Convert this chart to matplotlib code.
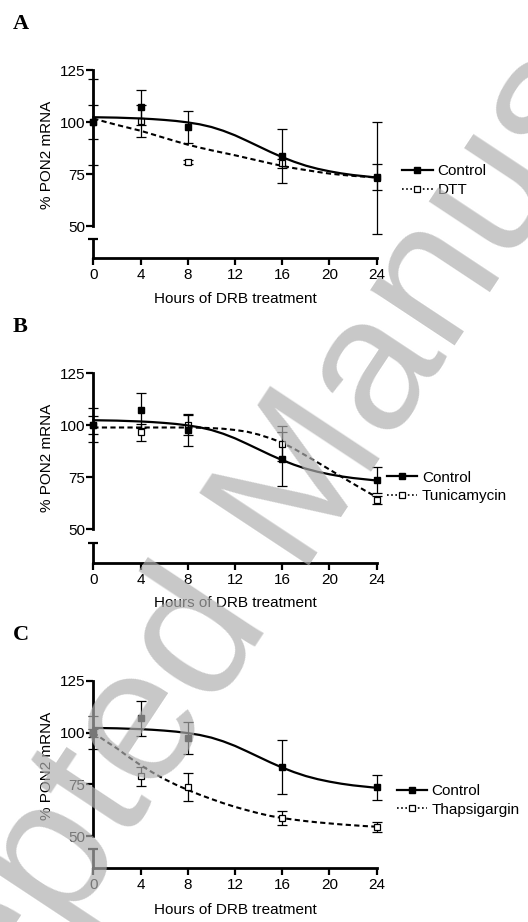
import matplotlib
matplotlib.use('Agg')
import matplotlib.pyplot as plt
from matplotlib.lines import Line2D

plt.rcParams['font.family'] = ['Liberation Sans', 'DejaVu Sans']

W, H = 528, 922

# time points (hours of DRB treatment)
hours = [0, 4, 8, 16, 24]
curve_hours = list(range(0, 25))

# control series (same in all panels)
control = [100, 107, 97.5, 83.5, 73.5]
control_err = [8, 8.4, 7.7, 13, 6.2]
control_fit = [102.3, 102.2, 102.1, 101.9, 101.7, 101.4, 101.0, 100.5, 99.8, 98.9, 97.6, 95.8,
               93.6, 91.0, 88.3, 85.6, 83.1, 80.9, 79.0, 77.5, 76.3, 75.3, 74.5, 73.9, 73.3]

# DTT
dtt = [100, 100.3, 80.6, 80.1, 73.0]
dtt_err = [20.6, 7.7, 1, 2, 26.8]
dtt_fit = [101.7, 100.1, 98.6, 97.2, 95.8, 94.1, 92.4, 90.7, 89.1, 87.7, 86.4, 85.2,
           84.0, 82.7, 81.4, 80.1, 78.9, 77.8, 76.9, 76.0, 75.2, 74.6, 74.1, 73.7, 73.3]

# Tunicamycin
tunica = [100, 96.4, 100, 91.0, 64.0]
tunica_err = [4.5, 4, 5, 8.5, 2]
tunica_fit = [98.8, 98.8, 98.8, 98.8, 98.8, 98.8, 98.8, 98.8, 98.8, 98.7, 98.5, 98.2,
              97.6, 96.8, 95.4, 93.6, 91.5, 88.6, 85.3, 82.0, 78.6, 75.2, 71.8, 68.5, 65.3]

# Thapsigargin
thapsi = [100, 78.8, 73.6, 58.6, 54.2]
thapsi_err = [2, 4.5, 6.8, 3.4, 2.4]
thapsi_fit = [100, 96.1, 92.4, 88.2, 84.3, 80.8, 77.6, 74.8, 72.3, 70.0, 67.9, 65.9,
              64.1, 62.5, 61.0, 59.7, 58.7, 57.9, 57.2, 56.6, 56.1, 55.6, 55.2, 54.8, 54.5]

panels = [
    # letter, treatment label, values, errors, fit, upper top/bottom px, lower top/bottom px, legend anchor
    ('A', 'DTT', dtt, dtt_err, dtt_fit, (70, 226), (239, 258), (1.09, 0.29), 299),
    ('B', 'Tunicamycin', tunica, tunica_err, tunica_fit, (373, 529), (543, 563), (1.035, 0.27), 603),
    ('C', 'Thapsigargin', thapsi, thapsi_err, thapsi_fit, (681, 836), (849, 868), (1.07, 0.23), 910),
]

x_left, x_right = 93.3, 376.7

fig = plt.figure(figsize=(W / 100, H / 100), dpi=100)


def add_axes_px(left, top, right, bottom):
    return fig.add_axes([left / W, 1 - bottom / H, (right - left) / W, (bottom - top) / H])


for letter, name, vals, errs, fit, (utop, ubot), (ltop, lbot), leg_pos, xlab_y in panels:
    ax = add_axes_px(x_left, utop, x_right, ubot)
    ax.set_xlim(0, 24)
    ax.set_ylim(50, 125)
    for s in ['top', 'right', 'bottom']:
        ax.spines[s].set_visible(False)
    ax.spines['left'].set_linewidth(2)
    ax.set_xticks([])
    ax.set_yticks([50, 75, 100, 125])
    ax.tick_params(axis='y', length=5, width=1.6, labelsize=11, pad=1)
    ax.patch.set_alpha(0)

    # treatment
    ax.plot(curve_hours, fit, color='black', lw=1.5, ls=(0, (2.5, 1.6)), clip_on=False)
    ax.errorbar(hours, vals, yerr=errs, fmt='none', ecolor='black', elinewidth=0.9,
                capsize=3.5, capthick=0.9, clip_on=False)
    ax.plot(hours, vals, ls='none', marker='s', ms=4.5, mfc='white', mec='black', mew=0.9,
            clip_on=False)
    # control
    ax.plot(curve_hours, control_fit, color='black', lw=1.6, clip_on=False)
    ax.errorbar(hours, control, yerr=control_err, fmt='none', ecolor='black', elinewidth=0.9,
                capsize=3.5, capthick=0.9, clip_on=False)
    ax.plot(hours, control, ls='none', marker='s', ms=5, color='black', clip_on=False)

    handles = [
        Line2D([], [], color='black', lw=1.6, marker='s', ms=4),
        Line2D([], [], color='black', lw=1.2, ls=(0, (1, 1.5)), marker='s', ms=4,
               mfc='white', mew=0.9),
    ]
    ax.legend(handles, ['Control', name], loc='center left', bbox_to_anchor=leg_pos,
              frameon=False, borderpad=0, borderaxespad=0, handlelength=2.0,
              handletextpad=0.3, labelspacing=0.3, fontsize=11)

    # short lower segment of the broken y axis, carrying the x axis
    lo = add_axes_px(x_left, ltop, x_right, lbot)
    lo.set_xlim(0, 24)
    lo.set_ylim(0, 1)
    for s in ['top', 'right']:
        lo.spines[s].set_visible(False)
    lo.spines['left'].set_linewidth(2)
    lo.spines['bottom'].set_linewidth(2)
    lo.set_yticks([1])
    lo.set_yticklabels([])
    lo.tick_params(axis='y', direction='inout', length=7, width=1.6)
    lo.set_xticks(range(0, 25, 4))
    lo.tick_params(axis='x', length=5, width=1.6, labelsize=11, pad=2)
    lo.patch.set_alpha(0)

    fig.text(235 / W, 1 - xlab_y / H, 'Hours of DRB treatment', ha='center', va='center',
             fontsize=11)
    fig.text(47 / W, 1 - (utop + 85) / H, '% PON2 mRNA', rotation=90, ha='center',
             va='center', fontsize=11)
    fig.text(13 / W, 1 - (utop - 46) / H, letter, ha='left', va='center', fontsize=16,
             fontweight='bold', family='Liberation Serif')

# watermark
fig.text(283 / W, 1 - 515 / H, 'Accepted Manuscript', rotation=56.5, rotation_mode='anchor',
         ha='center', va='center', fontsize=138, color='#afafaf', alpha=0.69, zorder=10)

fig.savefig('out.png', dpi=100)
